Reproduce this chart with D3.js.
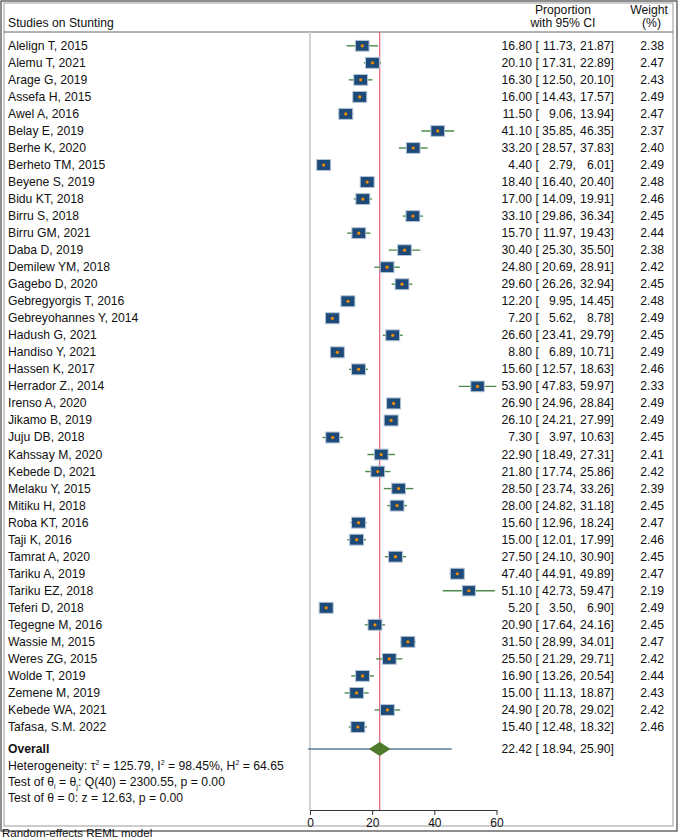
<!DOCTYPE html>
<html>
<head>
<meta charset="utf-8">
<script src="https://cdnjs.cloudflare.com/ajax/libs/d3/7.8.5/d3.min.js"></script>
<style>
  body { margin: 0; background: #fff; }
  svg text { font-family: "Liberation Sans", Arial, sans-serif; font-size: 12.2px; fill: #111; }
</style>
</head>
<body>
<svg id="forest" width="678" height="840"></svg>
<script>
// study labels
const studies = ["Alelign T, 2015", "Alemu T, 2021", "Arage G, 2019", "Assefa  H, 2015", "Awel A, 2016",
  "Belay E, 2019", "Berhe K, 2020", "Berheto TM, 2015", "Beyene S, 2019", "Bidu KT, 2018",
  "Birru S, 2018", "Birru GM, 2021", "Daba D, 2019", "Demilew YM, 2018", "Gagebo D, 2020",
  "Gebregyorgis T, 2016", "Gebreyohannes Y, 2014", "Hadush G, 2021", "Handiso Y, 2021", "Hassen K, 2017",
  "Herrador Z., 2014", "Irenso A, 2020", "Jikamo B, 2019", "Juju DB, 2018", "Kahssay M, 2020",
  "Kebede D, 2021", "Melaku Y, 2015", "Mitiku H, 2018", "Roba KT, 2016", "Taji K, 2016",
  "Tamrat A, 2020", "Tariku A, 2019", "Tariku EZ, 2018", "Teferi D, 2018", "Tegegne M, 2016",
  "Wassie M, 2015", "Weres ZG, 2015", "Wolde T, 2019", "Zemene M, 2019", "Kebede WA, 2021",
  "Tafasa, S.M. 2022"];

const estimate = [16.80, 20.10, 16.30, 16.00, 11.50, 41.10, 33.20, 4.40, 18.40, 17.00,
  33.10, 15.70, 30.40, 24.80, 29.60, 12.20, 7.20, 26.60, 8.80, 15.60,
  53.90, 26.90, 26.10, 7.30, 22.90, 21.80, 28.50, 28.00, 15.60, 15.00,
  27.50, 47.40, 51.10, 5.20, 20.90, 31.50, 25.50, 16.90, 15.00, 24.90, 15.40];

const lower = [11.73, 17.31, 12.50, 14.43, 9.06, 35.85, 28.57, 2.79, 16.40, 14.09,
  29.86, 11.97, 25.30, 20.69, 26.26, 9.95, 5.62, 23.41, 6.89, 12.57,
  47.83, 24.96, 24.21, 3.97, 18.49, 17.74, 23.74, 24.82, 12.96, 12.01,
  24.10, 44.91, 42.73, 3.50, 17.64, 28.99, 21.29, 13.26, 11.13, 20.78, 12.48];

const upper = [21.87, 22.89, 20.10, 17.57, 13.94, 46.35, 37.83, 6.01, 20.40, 19.91,
  36.34, 19.43, 35.50, 28.91, 32.94, 14.45, 8.78, 29.79, 10.71, 18.63,
  59.97, 28.84, 27.99, 10.63, 27.31, 25.86, 33.26, 31.18, 18.24, 17.99,
  30.90, 49.89, 59.47, 6.90, 24.16, 34.01, 29.71, 20.54, 18.87, 29.02, 18.32];

const weight = [2.38, 2.47, 2.43, 2.49, 2.47, 2.37, 2.40, 2.49, 2.48, 2.46,
  2.45, 2.44, 2.38, 2.42, 2.45, 2.48, 2.49, 2.45, 2.49, 2.46,
  2.33, 2.49, 2.49, 2.45, 2.41, 2.42, 2.39, 2.45, 2.47, 2.46,
  2.45, 2.47, 2.19, 2.49, 2.45, 2.47, 2.42, 2.44, 2.43, 2.42, 2.46];

// overall effect and prediction interval
const overall = {est: 22.42, lo: 18.94, hi: 25.90, predLo: -0.6, predHi: 45.6};
const xTicks = [0, 20, 40, 60];

const svg = d3.select("#forest");
const fmt = d3.format(".2f");

const x = d3.scaleLinear().domain([0, 60]).range([310, 496.5]);
const y = d3.scaleLinear().domain([0, studies.length - 1]).range([45.8, 727]);
const yOverall = 749;
const axisY = 810;
const headY = 32;

// frame
svg.append("rect").attr("x", 1).attr("y", 1).attr("width", 676).attr("height", 830)
  .attr("fill", "none").attr("stroke", "#444").attr("stroke-width", 1.2);
svg.append("rect").attr("x", 4).attr("y", 3).attr("width", 669).attr("height", 823)
  .attr("fill", "none").attr("stroke", "#aaa").attr("stroke-width", 1.2);
svg.append("line").attr("x1", 4).attr("x2", 673).attr("y1", headY).attr("y2", headY)
  .attr("stroke", "#666").attr("stroke-width", 1);

// header
svg.append("text").attr("x", 8).attr("y", 27).text("Studies on Stunting");
svg.append("text").attr("x", 563).attr("y", 14).attr("text-anchor", "middle").text("Proportion");
svg.append("text").attr("x", 563).attr("y", 27).attr("text-anchor", "middle").text("with 95% CI");
svg.append("text").attr("x", 668).attr("y", 14).attr("text-anchor", "end").text("Weight");
svg.append("text").attr("x", 661).attr("y", 27).attr("text-anchor", "end").text("(%)");

// null line and overall line
svg.append("line").attr("x1", x(0)).attr("x2", x(0)).attr("y1", headY).attr("y2", axisY)
  .attr("stroke", "#d2d2d2").attr("stroke-width", 2);
svg.append("line").attr("x1", x(overall.est)).attr("x2", x(overall.est)).attr("y1", headY).attr("y2", axisY)
  .attr("stroke", "#e0607c").attr("stroke-width", 1.2);

// study rows
const rows = svg.append("g").selectAll("g").data(studies).join("g");

rows.append("text").attr("x", 8).attr("y", (d, i) => y(i) + 4).text(d => d);

rows.append("line")
  .attr("x1", (d, i) => x(lower[i])).attr("x2", (d, i) => x(upper[i]))
  .attr("y1", (d, i) => y(i)).attr("y2", (d, i) => y(i))
  .attr("stroke", "#4b8a4b").attr("stroke-width", 1.4);

const sq = d3.scaleSqrt().domain([0, 2.49]).range([0, 1]);
rows.append("rect")
  .attr("x", (d, i) => x(estimate[i]) - 7 * sq(weight[i]))
  .attr("y", (d, i) => y(i) - 5.5 * sq(weight[i]))
  .attr("width", (d, i) => 14 * sq(weight[i]))
  .attr("height", (d, i) => 11 * sq(weight[i]))
  .attr("fill", "#1d4a78").attr("stroke", "#b4c6d8").attr("stroke-width", 1);

rows.append("circle")
  .attr("cx", (d, i) => x(estimate[i])).attr("cy", (d, i) => y(i)).attr("r", 1.6)
  .attr("fill", "#f28c00");

// numeric columns
rows.append("text").attr("x", 532).attr("y", (d, i) => y(i) + 4).attr("text-anchor", "end")
  .text((d, i) => fmt(estimate[i]));
rows.append("text").attr("x", 535.5).attr("y", (d, i) => y(i) + 4).text("[");
rows.append("text").attr("x", 576).attr("y", (d, i) => y(i) + 4).attr("text-anchor", "end")
  .text((d, i) => fmt(lower[i]) + ",");
rows.append("text").attr("x", 614).attr("y", (d, i) => y(i) + 4).attr("text-anchor", "end")
  .text((d, i) => fmt(upper[i]) + "]");
rows.append("text").attr("x", 664).attr("y", (d, i) => y(i) + 4).attr("text-anchor", "end")
  .text((d, i) => fmt(weight[i]));

// overall row
svg.append("text").attr("x", 8).attr("y", yOverall + 4).style("font-weight", "bold").text("Overall");
svg.append("line").attr("x1", x(overall.predLo)).attr("x2", x(overall.predHi))
  .attr("y1", yOverall).attr("y2", yOverall).attr("stroke", "#5b7b98").attr("stroke-width", 1.4);
svg.append("path")
  .attr("d", `M${x(overall.lo)},${yOverall} L${x(overall.est)},${yOverall - 7} L${x(overall.hi)},${yOverall} L${x(overall.est)},${yOverall + 7} Z`)
  .attr("fill", "#4e7a2c");
svg.append("text").attr("x", 532).attr("y", yOverall + 4).attr("text-anchor", "end").text(fmt(overall.est));
svg.append("text").attr("x", 535.5).attr("y", yOverall + 4).text("[");
svg.append("text").attr("x", 576).attr("y", yOverall + 4).attr("text-anchor", "end").text(fmt(overall.lo) + ",");
svg.append("text").attr("x", 614).attr("y", yOverall + 4).attr("text-anchor", "end").text(fmt(overall.hi) + "]");

// heterogeneity stats
const het = svg.append("text").attr("x", 8).attr("y", 770);
het.append("tspan").text("Heterogeneity: \u03C4");
het.append("tspan").attr("dy", -5).style("font-size", "7px").text("2");
het.append("tspan").attr("dy", 5).text(" = 125.79, I");
het.append("tspan").attr("dy", -5).style("font-size", "7px").text("2");
het.append("tspan").attr("dy", 5).text(" = 98.45%, H");
het.append("tspan").attr("dy", -5).style("font-size", "7px").text("2");
het.append("tspan").attr("dy", 5).text(" = 64.65");

const q = svg.append("text").attr("x", 8).attr("y", 786);
q.append("tspan").text("Test of \u03B8");
q.append("tspan").attr("dy", 3).style("font-size", "7px").text("i");
q.append("tspan").attr("dy", -3).text(" = \u03B8");
q.append("tspan").attr("dy", 3).style("font-size", "7px").text("j");
q.append("tspan").attr("dy", -3).text(": Q(40) = 2300.55, p = 0.00");

svg.append("text").attr("x", 8).attr("y", 802).text("Test of \u03B8 = 0: z = 12.63, p = 0.00");

// axis
const axis = svg.append("g").attr("transform", `translate(0,${axisY})`)
  .call(d3.axisBottom(x).tickValues(xTicks).tickSize(5).tickPadding(3).tickSizeOuter(0));
axis.select(".domain").attr("stroke", "#333");
axis.selectAll(".tick line").attr("stroke", "#333");
axis.selectAll(".tick text").style("font-size", "12px").style("font-family", "Liberation Sans, Arial, sans-serif").attr("fill", "#111");

// caption
svg.append("text").attr("x", 2).attr("y", 837).style("font-size", "11.5px").text("Random-effects REML model");
</script>
</body>
</html>
